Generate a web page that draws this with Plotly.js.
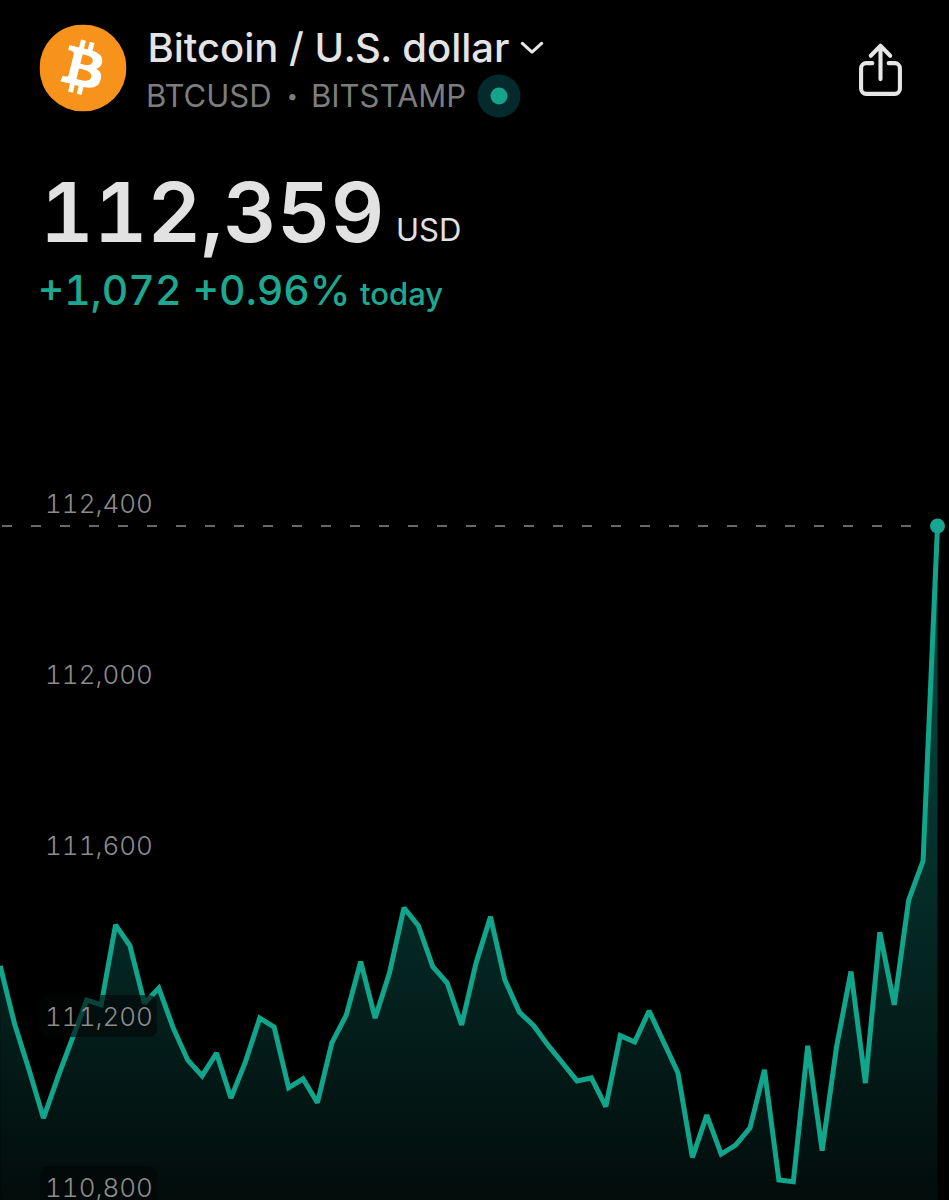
<!DOCTYPE html>
<html>
<head>
<meta charset="utf-8">
<script src="https://cdn.plot.ly/plotly-3.0.1.min.js"></script>
<style>
html,body{margin:0;padding:0;background:#000;overflow:hidden;}
#frame{width:949px;height:1200px;overflow:hidden;}
#chart{width:949px;height:1240px;}
#chart svg text{font-feature-settings:"tnum" 1;}
</style>
</head>
<body>
<div id="frame"><div id="chart"></div></div>
<script>
const prices = [111330,111194,111087,110974,111070,111161,111250,111239,111426,111377,
  111243,111278,111185,111110,111073,111126,111021,111105,111208,111187,
  111045,111066,111010,111150,111215,111340,111208,111314,111466,111424,
  111328,111290,111192,111337,111445,111297,111222,111190,111144,111103,
  111061,111068,111001,111167,111152,111225,111155,111080,110882,110981,
  110890,110911,110951,111087,110829,110825,111143,110898,111141,111317,
  111056,111409,111239,111484,111576,112359];
const sampleIndex = prices.map((_, i) => i);
const tickValues = [112400,112000,111600,111200,110800];
const tickLabels = ['112,400','112,000','111,600','111,200','110,800'];
const tiledTicks = [111200,110800];
const lastPrice = prices[prices.length - 1];

const W = 949, H = 1240;
const pxPerIndex = 14.42, indexAtLeft = -0.2 / pxPerIndex;
const pxPerUsd = 0.4275;
const xRange = [indexAtLeft, indexAtLeft + W / pxPerIndex];
const yBottom = 112400 - (H - 508.5) / pxPerUsd;
const yTop = 112400 + 508.5 / pxPerUsd;
const yAtPageEnd = 112400 - (1200 - 508.5) / pxPerUsd;
const px = v => v / W, py = v => 1 - v / H;

function tile(value) {
  const cx = 98.5, hw = 58.5, hh = 21, r = 8;
  const cy = 5.5, xs = [], ys = [];
  const corners = [[hw-r,hh-r,0],[hw-r,-(hh-r),-90],[-(hw-r),-(hh-r),-180],[-(hw-r),hh-r,-270]];
  corners.forEach(c => {
    for (let k = 0; k <= 6; k++) {
      const a = (90 + c[2] - 15 * k) * Math.PI / 180;
      xs.push(indexAtLeft + (cx + c[0] + r * Math.cos(a)) / pxPerIndex);
      ys.push(value + (cy + c[1] + r * Math.sin(a)) / pxPerUsd);
    }
  });
  xs.push(xs[0]); ys.push(ys[0]);
  return {x: xs, y: ys, type: 'scatter', mode: 'lines', line: {width: 0}, fill: 'toself',
          fillcolor: 'rgba(4,7,7,0.62)', hoverinfo: 'skip', showlegend: false};
}

const traces = [
  {x: sampleIndex, y: prices, type: 'scatter', mode: 'lines',
   line: {color: '#11a58c', width: 5, shape: 'linear'},
   fill: 'tozeroy',
   fillgradient: {type: 'vertical', start: lastPrice, stop: yAtPageEnd,
     colorscale: [[0, 'rgb(7,81,72)'], [1, 'rgb(2,12,11)']]},
   showlegend: false, hoverinfo: 'skip'},
  ...tiledTicks.map(tile),
  {x: [sampleIndex[sampleIndex.length - 1]], y: [lastPrice], type: 'scatter', mode: 'markers',
   marker: {color: '#17a68f', size: 15}, showlegend: false, hoverinfo: 'skip'}
];

function svg(inner, vb) {
  return 'data:image/svg+xml;utf8,' + encodeURIComponent(
    '<svg xmlns="http://www.w3.org/2000/svg" viewBox="' + vb + '">' + inner + '</svg>');
}
const btcPath = 'M46.1 27.44c.64-4.28-2.62-6.58-7.08-8.12l1.45-5.8-3.53-.88-1.41 5.65c-.93-.23-1.88-.45-2.83-.67l1.42-5.69-3.53-.88-1.45 5.8c-.77-.18-1.52-.35-2.26-.53v-.02l-4.87-1.22-.94 3.77s2.62.6 2.57.64c1.43.36 1.69 1.3 1.64 2.05l-1.65 6.6c.1.03.23.06.37.12l-.37-.09-2.31 9.26c-.18.44-.62 1.1-1.62.85.04.05-2.57-.64-2.57-.64l-1.75 4.05 4.6 1.15c.85.21 1.69.44 2.52.65l-1.46 5.87 3.53.88 1.45-5.81c.96.26 1.9.5 2.81.73l-1.44 5.78 3.53.88 1.46-5.86c6.02 1.14 10.55.68 12.45-4.77 1.53-4.38-.08-6.91-3.24-8.56 2.31-.53 4.04-2.05 4.5-5.18zM38.03 38.76c-1.09 4.38-8.46 2.01-10.85 1.42l1.94-7.76c2.39.6 10.05 1.78 8.91 6.34zm1.09-11.38c-.99 3.98-7.13 1.96-9.12 1.46l1.76-7.04c1.99.5 8.4 1.43 7.36 5.58z';
const logo = '<circle cx="32" cy="32" r="32" fill="#f7931a"/><path fill="#fff" d="' + btcPath + '"/>';
const shareIcon = '<g fill="none" stroke="#e6e6e6" stroke-width="4" stroke-linecap="round" stroke-linejoin="round">' +
  '<path d="M15 20H9a5 5 0 0 0-5 5v19a5 5 0 0 0 5 5h28a5 5 0 0 0 5-5V25a5 5 0 0 0-5-5h-6"/>' +
  '<path d="M23 35V4M13.500 13L23 3.500 32.500 13"/></g>';
const chevron = '<path d="M2 2L10 9.500 18 2" fill="none" stroke="#e6e6e6" stroke-width="2.600" stroke-linecap="round" stroke-linejoin="round"/>';

function img(src, x, y, w, h) {
  return {source: src, xref: 'paper', yref: 'paper', x: px(x), y: py(y), sizex: w / W, sizey: h / H,
          xanchor: 'left', yanchor: 'top', sizing: 'stretch', layer: 'above'};
}
function circle(cx, cy, r, color) {
  return {type: 'circle', xref: 'paper', yref: 'paper', x0: px(cx - r), x1: px(cx + r),
          y0: py(cy + r), y1: py(cy - r), fillcolor: color, line: {width: 0}, layer: 'above'};
}
function label(text, x, y, size, color, family, weight) {
  return {text, xref: 'paper', yref: 'paper', x: px(x), y: py(y), xanchor: 'left', yanchor: 'middle',
          showarrow: false, borderpad: 0, borderwidth: 0,
          font: {size, color, family, weight: weight || 400}};
}

const layout = {
  width: W, height: H, autosize: false,
  margin: {l: 0, r: 0, t: 0, b: 0, pad: 0},
  paper_bgcolor: '#000', plot_bgcolor: '#000', showlegend: false,
  xaxis: {range: xRange, visible: false, fixedrange: true},
  yaxis: {range: [yBottom, yTop], fixedrange: true, showgrid: false, zeroline: false, showline: false,
    tickmode: 'array', tickvals: tickValues, ticktext: tickLabels, ticks: '',
    ticklabelposition: 'inside', ticklabelstandoff: 42, ticklabelshift: -5,
    tickfont: {family: 'Inter', size: 26, color: '#8c8c8c', weight: 300}},
  shapes: [
    {type: 'line', xref: 'paper', yref: 'y', x0: px(2), x1: px(930), y0: lastPrice, y1: lastPrice,
     line: {color: '#8c8c8c', width: 1.5, dash: '10px,19px'}, layer: 'below'},
    circle(499, 96, 21.5, '#052a2d'),
    circle(499, 96, 8.5, '#14a38b')
  ],
  images: [
    img(svg(logo, '0 0 64 64'), 39.5, 24.5, 87, 87),
    img(svg(chevron, '0 0 20 11'), 520, 41, 24, 13),
    img(svg(shareIcon, '0 0 46 52'), 857, 42, 47, 55)
  ],
  annotations: [
    label('Bitcoin / U.S. dollar', 147, 48, 40, '#e4e4e4', 'Inter', 500),
    label('BTCUSD', 146, 96, 31, '#7d7d7d', 'Inter', 400),
    label('•', 287, 96, 20, '#7d7d7d', 'Inter', 500),
    label('BITSTAMP', 311, 96, 31, '#7d7d7d', 'Inter', 400),
    label('112,359', 60, 212, 83, '#e2e2e2', 'Inter', 600),
    label('USD', 396, 229, 31, '#e2e2e2', 'Inter', 400),
    label('+1,072 +0.96%', 45, 290, 41, '#1fa890', 'Inter', 500),
    label('today', 360, 293, 31, '#1fa890', 'Inter', 500)
  ]
};
Plotly.newPlot('chart', traces, layout, {staticPlot: true, displayModeBar: false});
</script>
</body>
</html>
